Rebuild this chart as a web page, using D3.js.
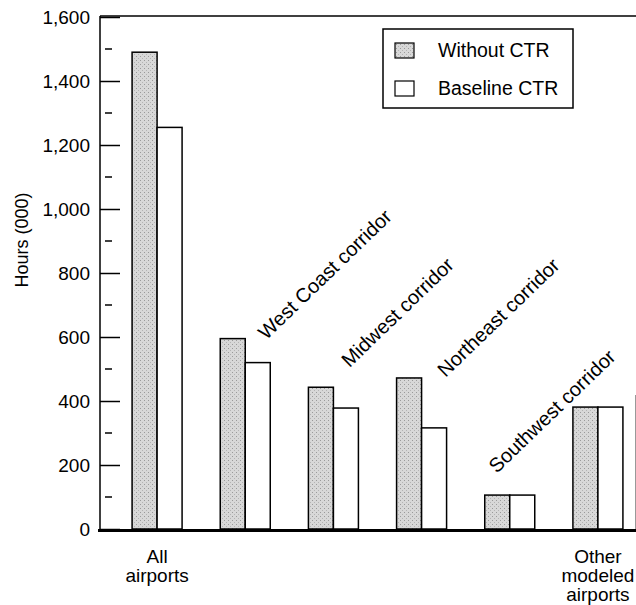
<!DOCTYPE html>
<html>
<head>
<meta charset="utf-8">
<script src="https://cdn.jsdelivr.net/npm/d3@7"></script>
<style>
  body { margin: 0; background: #fff; }
  svg { display: block; font-family: "Liberation Sans", Arial, Helvetica, sans-serif; }
</style>
</head>
<body>
<svg id="chart" width="636" height="605"></svg>
<script>
// ---- data ----
const categories = ["All airports", "West Coast corridor", "Midwest corridor", "Northeast corridor", "Southwest corridor", "Other modeled airports"];
const seriesNames = ["Without CTR", "Baseline CTR"];
const withoutCTR = [1490, 595, 443, 472, 106, 381];
const baselineCTR = [1255, 520, 378, 316, 106, 381];
const yTicks = [0, 200, 400, 600, 800, 1000, 1200, 1400, 1600];
const yMinorTicks = [100, 300, 500, 700, 900, 1100, 1300, 1500];
const bottomLabels = { "All airports": ["All", "airports"], "Other modeled airports": ["Other", "modeled", "airports"] };
const slantLabels = ["West Coast corridor", "Midwest corridor", "Northeast corridor", "Southwest corridor"];

const svg = d3.select("#chart");

// pattern for stippled gray fill
const defs = svg.append("defs");
const pat = defs.append("pattern").attr("id", "stipple").attr("patternUnits", "userSpaceOnUse")
  .attr("width", 4).attr("height", 4);
pat.append("rect").attr("width", 4).attr("height", 4).attr("fill", "#d8d8d8");
pat.append("rect").attr("x", 0).attr("y", 0).attr("width", 1).attr("height", 1).attr("fill", "#9a9a9a");
pat.append("rect").attr("x", 2).attr("y", 2).attr("width", 1).attr("height", 1).attr("fill", "#b4b4b4");

const x0 = 100, yTop = 16;
const y = d3.scaleLinear().domain([0, 1600]).range([529, 17]);
const x = d3.scaleBand().domain(categories).range([113, 642]);
const xs = d3.scaleBand().domain(seriesNames).range([x.bandwidth() / 2 - 25, x.bandwidth() / 2 + 25]);
const fills = { "Without CTR": "url(#stipple)", "Baseline CTR": "#fff" };

// frame: top line and faint right edge
svg.append("line").attr("x1", x0).attr("x2", 636).attr("y1", yTop).attr("y2", yTop)
  .attr("stroke", "#000").attr("stroke-width", 1.5);
svg.append("line").attr("x1", 635.5).attr("x2", 635.5).attr("y1", 395).attr("y2", 530)
  .attr("stroke", "#999").attr("stroke-width", 1);

// bars
const rows = categories.map((c, i) => ({ cat: c, values: [withoutCTR[i], baselineCTR[i]] }));
const g = svg.append("g");
rows.forEach(r => {
  r.values.forEach((v, j) => {
    const s = seriesNames[j];
    g.append("rect")
      .attr("x", x(r.cat) + xs(s))
      .attr("width", xs.bandwidth())
      .attr("y", y(v))
      .attr("height", y(0) - y(v))
      .attr("fill", fills[s])
      .attr("stroke", "#000")
      .attr("stroke-width", 1.5);
  });
});

// y axis
const yAxis = d3.axisRight(y).tickValues(yTicks).tickSize(20).tickFormat("");
const ay = svg.append("g").attr("transform", `translate(${x0},0)`).call(yAxis);
ay.select(".domain").remove();
ay.selectAll("line").attr("stroke", "#000").attr("stroke-width", 1.5);
svg.append("line").attr("x1", x0).attr("x2", x0).attr("y1", yTop).attr("y2", y(0) + 2)
  .attr("stroke", "#000").attr("stroke-width", 1.5);
// minor ticks
svg.append("g").selectAll("line").data(yMinorTicks).join("line")
  .attr("x1", x0 + 5).attr("x2", x0 + 12).attr("y1", d => y(d)).attr("y2", d => y(d))
  .attr("stroke", "#000").attr("stroke-width", 1.5);
// tick labels
svg.append("g").selectAll("text").data(yTicks).join("text")
  .attr("x", 90).attr("y", d => y(d)).attr("dy", "0.35em")
  .attr("text-anchor", "end").attr("font-size", 19).attr("fill", "#000")
  .text(d => d3.format(",")(d));

// baseline
svg.append("line").attr("x1", x0 - 2).attr("x2", 636).attr("y1", y(0) + 1.5).attr("y2", y(0) + 1.5)
  .attr("stroke", "#000").attr("stroke-width", 3);

// y title
svg.append("text").attr("transform", "translate(28,240) rotate(-90)")
  .attr("text-anchor", "middle").attr("font-size", 18).text("Hours (000)");

// bottom labels
Object.entries(bottomLabels).forEach(([cat, lines]) => {
  const cx = x(cat) + x.bandwidth() / 2;
  svg.append("text").attr("x", cx).attr("y", 563).attr("text-anchor", "middle").attr("font-size", 19)
    .selectAll("tspan").data(lines).join("tspan")
    .attr("x", cx).attr("dy", (d, i) => i === 0 ? 0 : 19).text(d => d);
});

// slanted labels
const nudge = { "West Coast corridor": [21, 2], "Midwest corridor": [16, -19], "Northeast corridor": [24, 0], "Southwest corridor": [-13, -21] };
slantLabels.forEach(cat => {
  const i = categories.indexOf(cat);
  const top = Math.max(withoutCTR[i], baselineCTR[i]);
  const ax = x(cat) + x.bandwidth() / 2 + nudge[cat][0];
  const ayy = y(top) + nudge[cat][1];
  svg.append("text").attr("transform", `translate(${ax},${ayy}) rotate(-44)`)
    .attr("font-size", 20).text(cat);
});

// legend
const lg = svg.append("g");
lg.append("rect").attr("x", 383).attr("y", 29).attr("width", 190).attr("height", 79)
  .attr("fill", "#fff").attr("stroke", "#000").attr("stroke-width", 1.5);
seriesNames.forEach((s, i) => {
  const yy = 43 + i * 38;
  lg.append("rect").attr("x", 395).attr("y", yy).attr("width", 19).attr("height", 15)
    .attr("fill", fills[s]).attr("stroke", "#000").attr("stroke-width", 1.2);
  lg.append("text").attr("x", 438).attr("y", yy + 7.5).attr("dy", "0.35em").attr("font-size", 19.5).text(s);
});
</script>
</body>
</html>
